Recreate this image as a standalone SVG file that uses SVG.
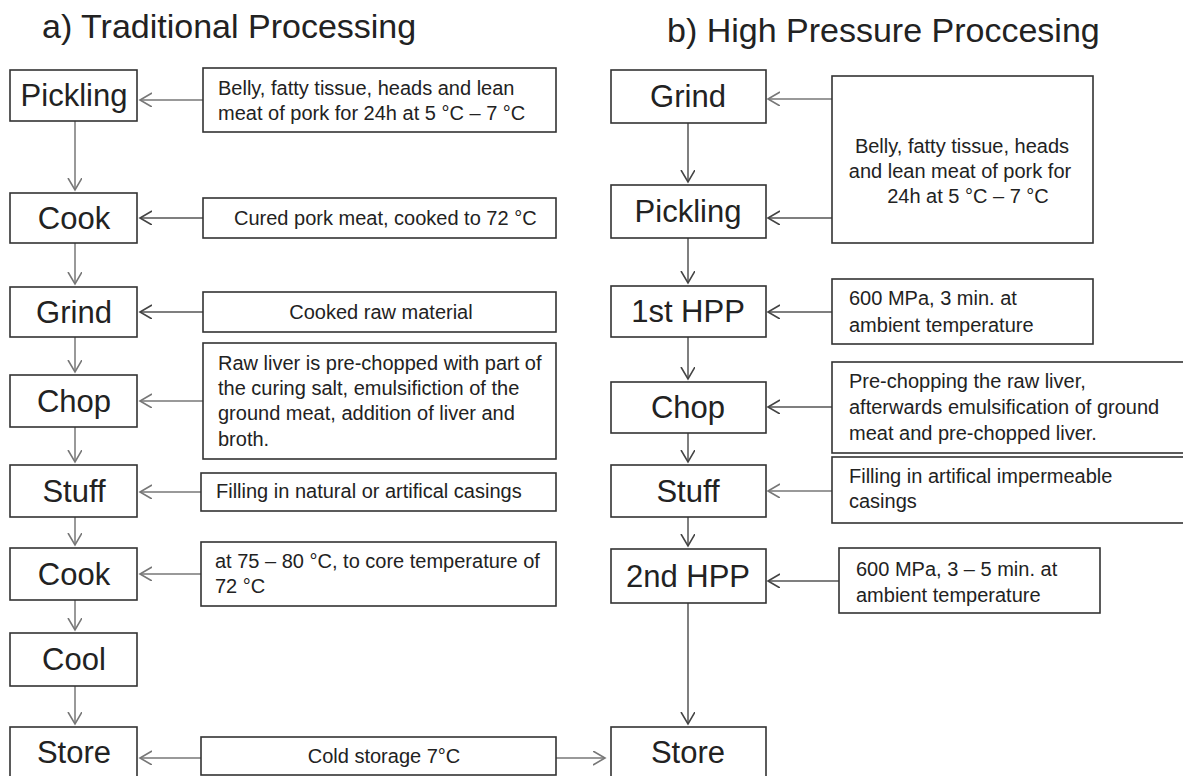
<svg xmlns="http://www.w3.org/2000/svg" width="1183" height="776" viewBox="0 0 1183 776">
<style>
text{font-family:"Liberation Sans",Arial,Helvetica,sans-serif;fill:#222}
.title{font-size:34px}
.node rect{fill:#fff;stroke:#333;stroke-width:1.6}
.lbl{font-size:31px;text-anchor:middle}
.desc rect{fill:#fff;stroke:#333;stroke-width:1.6}
.dt{font-size:20px}
.mid{text-anchor:middle}
.c1{fill:none;stroke:#999;stroke-width:2;marker-end:url(#a1)}
.c2{fill:none;stroke:#555;stroke-width:1.5;marker-end:url(#a2)}
</style>
<defs>
<marker id="a1" markerUnits="userSpaceOnUse" markerWidth="14" markerHeight="16" refX="12" refY="7" orient="auto"><path d="M0,0 L12,7 L0,14" fill="none" stroke="#777" stroke-width="1.6"/></marker>
<marker id="a2" markerUnits="userSpaceOnUse" markerWidth="14" markerHeight="16" refX="12" refY="7" orient="auto"><path d="M0,0 L12,7 L0,14" fill="none" stroke="#444" stroke-width="1.6"/></marker>
</defs>
<rect width="1183" height="776" fill="#fff"/>
<text class="title" x="42" y="38">a) Traditional Processing</text>
<text class="title" x="667" y="42">b) High Pressure Proccesing</text>

<g id="connectors">
<path class="c1" d="M203,100 H140"/>
<path class="c2" d="M203,218 H140"/>
<path class="c2" d="M203,312 H140"/>
<path class="c1" d="M203,401 H140"/>
<path class="c1" d="M201,492 H140"/>
<path class="c1" d="M201,574 H140"/>
<path class="c1" d="M201,758 H140"/>
<path class="c1" d="M556,758 H605"/>
<path class="c1" d="M75,121 V190"/>
<path class="c1" d="M75,243 V284"/>
<path class="c1" d="M75,337 V372"/>
<path class="c1" d="M75,427 V462"/>
<path class="c1" d="M75,517 V545"/>
<path class="c1" d="M75,600 V630"/>
<path class="c1" d="M75,686 V724"/>
<path class="c1" d="M832,99 H768"/>
<path class="c2" d="M832,218 H768"/>
<path class="c2" d="M832,312 H768"/>
<path class="c2" d="M832,407 H768"/>
<path class="c1" d="M832,491 H768"/>
<path class="c2" d="M839,581 H768"/>
<path class="c2" d="M688,123 V182"/>
<path class="c2" d="M688,238 V283"/>
<path class="c2" d="M688,337 V379"/>
<path class="c2" d="M688,433 V462"/>
<path class="c2" d="M688,517 V546"/>
<path class="c2" d="M688,603 V724"/>
</g>

<g id="a-pickling" class="node"><rect x="10" y="70" width="127" height="51"/><text class="lbl" x="74" y="106">Pickling</text></g>
<g id="a-cook1" class="node"><rect x="10" y="193" width="127" height="50"/><text class="lbl" x="74" y="229">Cook</text></g>
<g id="a-grind" class="node"><rect x="10" y="287" width="127" height="50"/><text class="lbl" x="74" y="323">Grind</text></g>
<g id="a-chop" class="node"><rect x="10" y="375" width="127" height="52"/><text class="lbl" x="74" y="412">Chop</text></g>
<g id="a-stuff" class="node"><rect x="10" y="465" width="127" height="52"/><text class="lbl" x="74" y="502">Stuff</text></g>
<g id="a-cook2" class="node"><rect x="10" y="548" width="127" height="52"/><text class="lbl" x="74" y="585">Cook</text></g>
<g id="a-cool" class="node"><rect x="10" y="633" width="127" height="53"/><text class="lbl" x="74" y="670">Cool</text></g>
<g id="a-store" class="node"><rect x="10" y="727" width="127" height="60"/><text class="lbl" x="74" y="763">Store</text></g>

<g id="a-d1" class="desc"><rect x="203" y="68" width="353" height="64"/><text class="dt" x="218" y="95">Belly, fatty tissue, heads and lean</text><text class="dt" x="218" y="120">meat of pork for 24h at 5 °C – 7 °C</text></g>
<g id="a-d2" class="desc"><rect x="203" y="198" width="353" height="40"/><text class="dt" x="234" y="225">Cured pork meat, cooked to 72 °C</text></g>
<g id="a-d3" class="desc"><rect x="203" y="292" width="353" height="40"/><text class="dt mid" x="381" y="319">Cooked raw material</text></g>
<g id="a-d4" class="desc"><rect x="203" y="343" width="353" height="116"/><text class="dt" x="218" y="370">Raw liver is pre-chopped with part of</text><text class="dt" x="218" y="395">the curing salt, emulsifiction of the</text><text class="dt" x="218" y="420">ground meat, addition of liver and</text><text class="dt" x="218" y="446">broth.</text></g>
<g id="a-d5" class="desc"><rect x="201" y="473" width="355" height="38"/><text class="dt" x="216" y="498">Filling in natural or artifical casings</text></g>
<g id="a-d6" class="desc"><rect x="201" y="542" width="355" height="64"/><text class="dt" x="215" y="568">at 75 – 80 °C, to core temperature of</text><text class="dt" x="215" y="593">72 °C</text></g>
<g id="cold" class="desc"><rect x="201" y="737" width="355" height="38"/><text class="dt mid" x="384" y="763">Cold storage 7°C</text></g>

<g id="b-grind" class="node"><rect x="611" y="70" width="155" height="53"/><text class="lbl" x="688" y="107">Grind</text></g>
<g id="b-pickling" class="node"><rect x="611" y="185" width="155" height="53"/><text class="lbl" x="688" y="222">Pickling</text></g>
<g id="b-hpp1" class="node"><rect x="611" y="286" width="155" height="51"/><text class="lbl" x="688" y="322">1st HPP</text></g>
<g id="b-chop" class="node"><rect x="611" y="382" width="155" height="51"/><text class="lbl" x="688" y="418">Chop</text></g>
<g id="b-stuff" class="node"><rect x="611" y="465" width="155" height="52"/><text class="lbl" x="688" y="502">Stuff</text></g>
<g id="b-hpp2" class="node"><rect x="611" y="549" width="155" height="54"/><text class="lbl" x="688" y="587">2nd HPP</text></g>
<g id="b-store" class="node"><rect x="611" y="727" width="155" height="60"/><text class="lbl" x="688" y="763">Store</text></g>

<g id="b-d1" class="desc"><rect x="832" y="76" width="261" height="167"/><text class="dt mid" x="962" y="153">Belly, fatty tissue, heads</text><text class="dt mid" x="960" y="178">and lean meat of pork for</text><text class="dt mid" x="968" y="203">24h at 5 °C – 7 °C</text></g>
<g id="b-d2" class="desc"><rect x="832" y="279" width="261" height="65"/><text class="dt" x="849" y="305">600 MPa, 3 min. at</text><text class="dt" x="849" y="332">ambient temperature</text></g>
<g id="b-d3" class="desc"><rect x="832" y="362" width="400" height="91"/><text class="dt" x="849" y="388">Pre-chopping the raw liver,</text><text class="dt" x="849" y="414">afterwards emulsification of ground</text><text class="dt" x="849" y="440">meat and pre-chopped liver.</text></g>
<g id="b-d4" class="desc"><rect x="832" y="457" width="400" height="66"/><text class="dt" x="849" y="483">Filling in artifical impermeable</text><text class="dt" x="849" y="508">casings</text></g>
<g id="b-d5" class="desc"><rect x="839" y="548" width="261" height="65"/><text class="dt" x="856" y="576">600 MPa, 3 – 5 min. at</text><text class="dt" x="856" y="602">ambient temperature</text></g>
</svg>
